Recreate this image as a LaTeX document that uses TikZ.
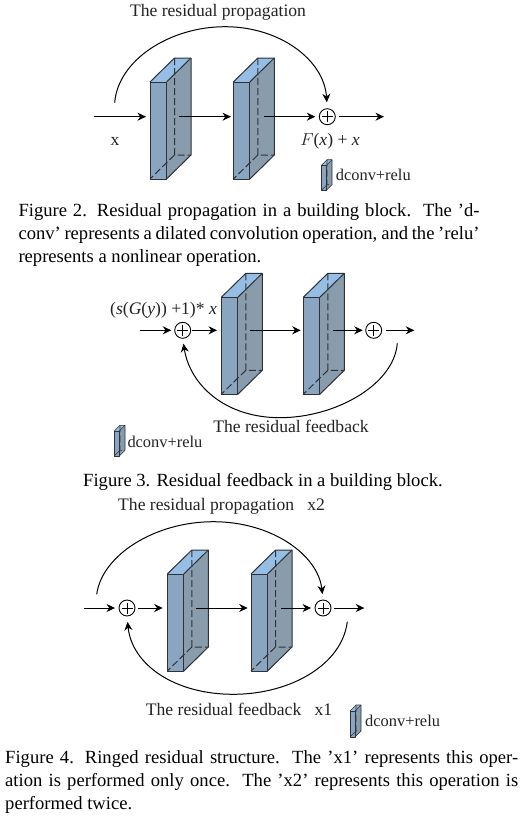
\documentclass[tikz,border=0pt]{standalone}
\usepackage{fontspec}
\setmainfont{Liberation Serif}
\usetikzlibrary{arrows.meta}
\definecolor{frontc}{RGB}{138,165,191}
\definecolor{sidec}{RGB}{137,156,172}
\definecolor{topc}{RGB}{150,190,228}
\definecolor{edgec}{RGB}{45,50,58}
\definecolor{textc}{RGB}{35,35,35}
\tikzset{
 x=1pt,y=-1pt,
 conn/.style={draw=black,line width=1pt,-{Stealth[length=8.5pt,width=8pt]}},
 plusnode/.style={circle,draw=black,line width=0.9pt,fill=white,minimum size=16pt,inner sep=0pt,
   path picture={\draw[line width=0.8pt] (path picture bounding box.center)+(-5.5,0)--+(5.5,0) (path picture bounding box.center)+(0,-5.5)--+(0,5.5);}},
 lbl/.style={font=\fontsize{17.6}{19}\selectfont,text=textc,inner sep=0pt},
 iconlbl/.style={font=\fontsize{16.4}{19}\selectfont,text=textc,inner sep=0pt,anchor=west},
 capline/.style={font=\fontsize{18.6}{20}\selectfont,text=black,inner sep=0pt,anchor=base west},
 edgeline/.style={draw=edgec,line width=1pt,line join=round},
 smalledge/.style={draw=edgec,line width=0.6pt,line join=round},
}
% #1 left, #2 front top, #3 front width, #4 front height, #5 depth x, #6 depth y, #7 style
\newcommand{\blockshape}[7]{%
 \fill[frontc] (#1,#2) rectangle ++(#3,#4);
 \fill[sidec] (#1+#3,#2) -- ++(#5,-#6) -- ++(0,#4) -- ++(-#5,#6) -- cycle;
 \fill[topc] (#1,#2) -- ++(#5,-#6) -- ++(#3,0) -- ++(-#5,#6) -- cycle;
 \draw[#7,dashed,dash pattern=on 7pt off 3pt] (#1+#5,#2-#6) -- ++(0,#4) -- ++(#3,0) (#1+#5,#2-#6+#4) -- (#1,#2+#4);
 \draw[#7] (#1,#2) rectangle ++(#3,#4);
 \draw[#7] (#1,#2) -- ++(#5,-#6) -- ++(#3,0) -- ++(0,#4) -- ++(-#5,#6);
 \draw[#7] (#1+#3,#2) -- ++(#5,-#6);
}
\newcommand{\bigblock}[2]{\blockshape{#1}{#2}{16.5}{97}{24.5}{24}{edgeline}}
\newcommand{\smallblock}[4]{\blockshape{#1}{#2}{#3}{#4}{6}{6}{smalledge}}
\begin{document}
\begin{tikzpicture}
\useasboundingbox (0,0) rectangle (524,817);
\fill[white] (0,0) rectangle (524,817);

% ---------- Figure 2
\bigblock{150}{82}
\bigblock{233.3}{82}
\coordinate (ain) at (94,116.7);
\coordinate (ab1in) at (146,116.7);
\coordinate (ab1out) at (179,116.7);
\coordinate (ab2in) at (231,116.7);
\coordinate (ab2out) at (264,116.7);
\coordinate (aout) at (384,116.7);
\coordinate (aarc) at (114.7,102.7);
\node[plusnode] (ap) at (327.3,116.7) {};
\draw[conn] (ain) -- (ab1in);
\draw[conn] (ab1out) -- (ab2in);
\draw[conn,shorten >=3.5pt] (ab2out) -- (ap.west);
\draw[conn,shorten <=3.5pt] (ap.east) -- (aout);
\draw[conn,shorten >=6pt] (aarc) .. controls (118,60) and (170,26.7) .. (225,26.7) .. controls (280,26.7) and (324,60) .. (ap.north);
\node[lbl] (a1) at (218,12) {The residual propagation};
\node[lbl] (a2) at (115,141) {x};
\node[lbl] (a3) at (330,141) {$F$(\textit{x}) + \textit{x}};
\smallblock{321}{165.7}{5}{25}
\node[iconlbl] (a4) at (335.7,175) {dconv+relu};
\node[capline] (c21) at (18.3,216.7) {\makebox[461pt][s]{Figure 2. Residual propagation in a building block.\ \ The ’d-}};
\node[capline] (c22) at (18.3,239.5) {\makebox[461pt][s]{conv’ represents a dilated convolution operation, and the ’relu’}};
\node[capline] (c23) at (18.3,262) {represents a nonlinear operation.};

% ---------- Figure 3
\bigblock{221.3}{297.3}
\bigblock{303.3}{297.3}
\coordinate (bin) at (140,330.3);
\coordinate (bb1in) at (217,330.3);
\coordinate (bb1out) at (250,330.3);
\coordinate (bb2in) at (300.7,330.3);
\coordinate (bb2out) at (333.3,330.3);
\coordinate (bout) at (414.3,330.3);
\coordinate (barc) at (397.3,343.3);
\node[plusnode] (bp1) at (182.7,330.3) {};
\node[plusnode] (bp2) at (373.7,330.3) {};
\draw[conn,shorten >=3pt] (bin) -- (bp1.west);
\draw[conn,shorten <=1pt] (bp1.east) -- (bb1in);
\draw[conn] (bb1out) -- (bb2in);
\draw[conn,shorten >=2.5pt] (bb2out) -- (bp2.west);
\draw[conn,shorten <=3.5pt] (bp2.east) -- (bout);
\draw[conn,shorten >=5pt] (barc) .. controls (394,385) and (335,417.7) .. (280,417.7) .. controls (225,417.7) and (190,385) .. (bp1.south);
\node[lbl,anchor=west] (b1) at (110,310) {(\textit{s}(\textit{G}(\textit{y})) +1)* \textit{x}};
\node[lbl] (b2) at (291,426) {The residual feedback};
\smallblock{114}{431.3}{5}{25}
\node[iconlbl] (b3) at (127.3,441.7) {dconv+relu};
\node[capline] (c31) at (83,486) {Figure 3. Residual feedback in a building block.};

% ---------- Figure 4
\bigblock{167.3}{574}
\bigblock{251}{574}
\coordinate (cin) at (84.3,608);
\coordinate (cb1in) at (162.7,608);
\coordinate (cb1out) at (196,608);
\coordinate (cb2in) at (247.7,608);
\coordinate (cb2out) at (281.3,608);
\coordinate (cout) at (364.3,608);
\coordinate (carct) at (96.7,594.3);
\coordinate (carcb) at (347.3,621.7);
\node[plusnode] (cp1) at (127,608) {};
\node[plusnode] (cp2) at (323,608) {};
\draw[conn,shorten >=3.5pt] (cin) -- (cp1.west);
\draw[conn,shorten <=2.5pt] (cp1.east) -- (cb1in);
\draw[conn] (cb1out) -- (cb2in);
\draw[conn,shorten >=3.5pt] (cb2out) -- (cp2.west);
\draw[conn,shorten <=3pt] (cp2.east) -- (cout);
\draw[conn,shorten >=5.5pt] (carct) .. controls (102,555) and (155,521.7) .. (213.3,521.7) .. controls (272,521.7) and (318,555) .. (cp2.north);
\draw[conn,shorten >=5.5pt] (carcb) .. controls (342,665) and (290,694.3) .. (233.3,694.3) .. controls (175,694.3) and (132,665) .. (cp1.south);
\node[lbl,anchor=west] (d1) at (118,506) {The residual propagation\ \ \ x2};
\node[lbl,anchor=west] (d2) at (145.7,709) {The residual feedback\ \ \ x1};
\smallblock{350}{711}{5}{26}
\node[iconlbl] (d3) at (365,721) {dconv+relu};
\node[capline] (c41) at (5,763.3) {\makebox[513pt][s]{Figure 4. Ringed residual structure.\ \ The ’x1’ represents this oper-}};
\node[capline] (c42) at (5,786) {\makebox[513pt][s]{ation is performed only once.\ \ The ’x2’ represents this operation is}};
\node[capline] (c43) at (5,809) {performed twice.};
\end{tikzpicture}
\end{document}
